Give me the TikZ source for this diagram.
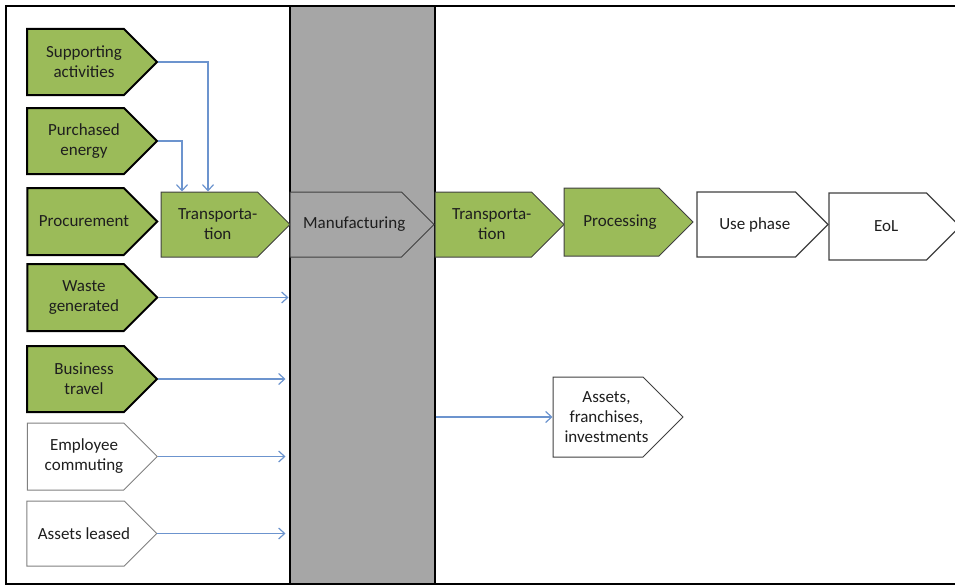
\documentclass[tikz,border=0pt]{standalone}
\usepackage{fontspec}
\setmainfont{Carlito}
\usetikzlibrary{shapes.symbols,arrows.meta}
\definecolor{grn}{RGB}{155,187,89}
\definecolor{colgray}{RGB}{166,166,166}
\definecolor{arr}{RGB}{108,148,206}
\definecolor{txt}{RGB}{30,30,30}
\definecolor{dk}{RGB}{64,64,64}
\definecolor{lg}{RGB}{128,128,128}
\begin{document}
\begin{tikzpicture}[x=1pt,y=-1pt,
  every node/.style={font=\fontsize{17}{20}\selectfont, text=txt, align=center, inner sep=0pt},
  hp/.style={signal, signal to=east, signal pointer angle=90, minimum width=130pt},
  tx/.style={label={[xshift=8.5pt]center:#1}},
  gthick/.style={hp, fill=grn, draw=black, line width=2pt},
  gthin/.style={hp, fill=grn, draw=dk, line width=1pt},
  wleft/.style={hp, fill=white, draw=lg, line width=1pt},
  wright/.style={hp, fill=white, draw=dk, line width=1.3pt},
  conn/.style={draw=arr, line width=1.2pt, -{Straight Barb[length=6pt,width=11pt]}}
]
\useasboundingbox (0,0) rectangle (955,586);
% gray column
\node[fill=colgray, draw=black, line width=2pt, minimum width=145pt, minimum height=578pt] (col) at (362,295) {};
% outer frame
\draw[black, line width=2pt] (960,6) -- (6,6) -- (6,584) -- (960,584);
% left shapes
\node[gthick, minimum height=66pt, tx={Supporting\\activities}] (sa) at (75.5,62) {};
\node[gthick, minimum height=66pt, tx={Purchased\\energy}] (pe) at (75.5,141) {};
\node[gthick, minimum height=67pt, tx={Procurement}] (pr) at (75.5,221.5) {};
\node[gthin, minimum width=129pt, minimum height=65pt, tx={Transporta-\\tion}] (tl) at (209.25,224.5) {};
\node[gthick, minimum height=67pt, tx={Waste\\generated}] (wg) at (75.5,297.5) {};
\node[gthick, minimum height=66pt, tx={Business\\travel}] (bt) at (75.5,379) {};
\node[wleft, minimum height=67pt, tx={Employee\\commuting}] (ec) at (75.5,456.5) {};
\node[wleft, minimum height=65pt, tx={Assets leased}] (al) at (75.5,533.5) {};
% main chain
\node[hp, fill=colgray, draw=dk, line width=1pt, minimum width=144pt, minimum height=65pt, tx={Manufacturing}] (mf) at (345.75,224.5) {};
\node[gthin, minimum width=129pt, minimum height=65pt, tx={Transporta-\\tion}] (tr) at (483.25,224.5) {};
\node[gthin, minimum width=129pt, minimum height=68pt, tx={Processing}] (pc) at (611.5,222) {};
\node[wright, minimum width=131pt, minimum height=65pt, tx={Use phase}] (up) at (746.25,224.5) {};
\node[wright, minimum width=131pt, minimum height=67pt, tx={EoL}] (eol) at (877.75,226.5) {};
\node[wleft, draw=dk, minimum width=130pt, minimum height=80pt, tx={Assets,\\franchises,\\investments}] (afi) at (598,417) {};
% connectors
\draw[conn] (sa.east) -| ([xshift=-1.25pt]tl.north);
\draw[conn] (pe.east) -| ([xshift=-27.25pt]tl.north);
\draw[conn] (wg.east) -- (wg.east -| col.west);
\draw[conn] (bt.east) -- ([xshift=-3pt]bt.east -| col.west);
\draw[conn] (ec.east) -- ([xshift=-3pt]ec.east -| col.west);
\draw[conn] (al.east) -- ([xshift=-3pt]al.east -| col.west);
\draw[conn] (col.east |- afi.west) -- (afi.west);
\end{tikzpicture}
\end{document}
